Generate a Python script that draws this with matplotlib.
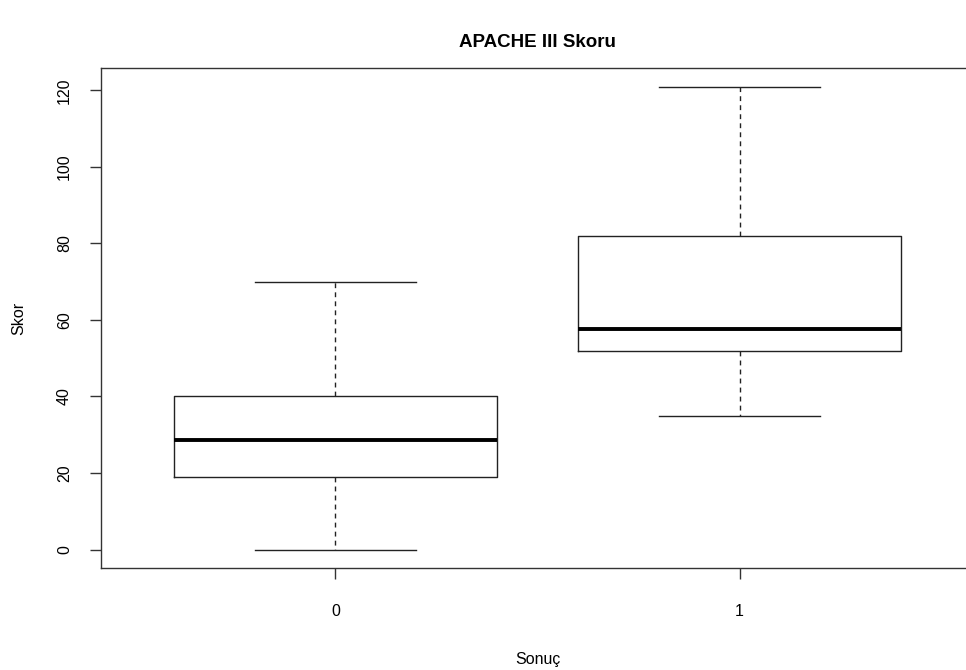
import matplotlib.pyplot as plt

plt.rcParams['font.family'] = ['Liberation Sans', 'DejaVu Sans']

groups = ['0', '1']
whislo = [0, 35]
q1 = [19, 52]
med = [28.5, 57.5]
q3 = [40, 82]
whishi = [70, 121]

stats = []
for i in range(len(groups)):
    stats.append(dict(label=groups[i], whislo=whislo[i], q1=q1[i], med=med[i],
                      q3=q3[i], whishi=whishi[i], fliers=[]))

fig = plt.figure(figsize=(9.66, 6.70), dpi=100)
ax = fig.add_axes([0.1046, 0.1522, 0.9037, 0.7463])

ax.bxp(stats, positions=[1, 2], widths=0.8, showfliers=False,
       boxprops=dict(color='#222222', linewidth=1.0),
       medianprops=dict(color='black', linewidth=2.8, solid_capstyle='butt'),
       whiskerprops=dict(color='#222222', linewidth=1.0, linestyle=(0, (3.5, 3))),
       capprops=dict(color='#222222', linewidth=1.0),
       capwidths=0.4)

ax.set_xlim(0.42, 2.58)
ax.set_ylim(-4.84, 125.84)
ax.set_yticks([0, 20, 40, 60, 80, 100, 120])
ax.set_xticks([1, 2])
ax.set_xticklabels(groups)

for s in ax.spines.values():
    s.set_color('#333333')
    s.set_linewidth(1.0)

ax.tick_params(axis='both', length=8, width=1.0, color='#333333', labelsize=11.5)
ax.tick_params(axis='y', pad=13, labelrotation=90)
ax.tick_params(axis='x', pad=18)
for lab in ax.get_yticklabels():
    lab.set_va('center')

ax.set_title('APACHE III Skoru', fontsize=13.5, fontweight='bold', pad=15)
ax.set_xlabel('Sonuç', fontsize=11.5, labelpad=24)
ax.set_ylabel('Skor', fontsize=11.5, labelpad=22)

fig.savefig('out.png', dpi=100)
